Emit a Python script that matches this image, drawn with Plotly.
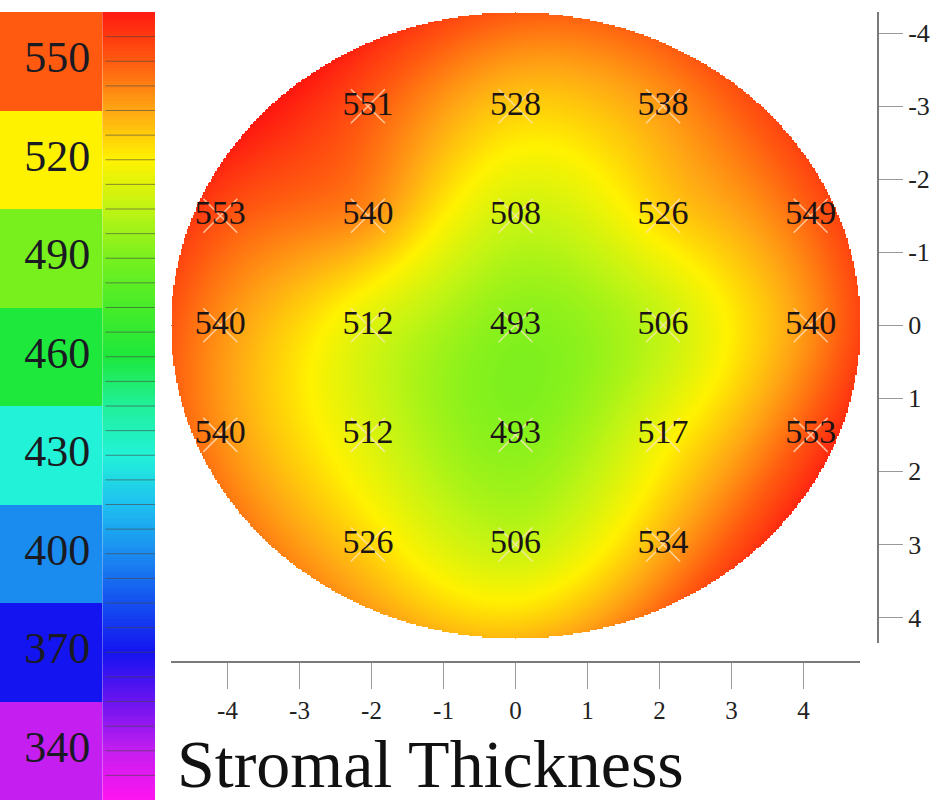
import numpy as np
import plotly.graph_objects as go

# ---- measurement positions (mm) and stromal thickness (um) ----
pt_x = [-2.05, 0.0, 2.05,
        -4.1, -2.05, 0.0, 2.05, 4.1,
        -4.1, -2.05, 0.0, 2.05, 4.1,
        -4.1, -2.05, 0.0, 2.05, 4.1,
        -2.05, 0.0, 2.05]
pt_y = [-3.0, -3.0, -3.0,
        -1.5, -1.5, -1.5, -1.5, -1.5,
        0.0, 0.0, 0.0, 0.0, 0.0,
        1.5, 1.5, 1.5, 1.5, 1.5,
        3.0, 3.0, 3.0]
thickness = [551, 528, 538,
             553, 540, 508, 526, 549,
             540, 512, 493, 506, 540,
             540, 512, 493, 517, 553,
             526, 506, 534]

# axis ticks
axis_ticks = [-4, -3, -2, -1, 0, 1, 2, 3, 4]
axis_ticktext = ["-4", "-3", "-2", "-1", "0", "1", "2", "3", "4"]

# colour key bands
key_values = [550, 520, 490, 460, 430, 400, 370, 340]
key_step = 30
key_min, key_max = 325, 565

title_text = "Stromal Thickness"

FONT = "Liberation Serif, Times New Roman, serif"

stops = [(325, "#FF14F0"), (340, "#C41EF0"), (355, "#6A14F0"), (370, "#1414F0"),
         (385, "#1450F0"), (400, "#1A8CF0"), (415, "#1EC0F0"), (430, "#22F2D8"),
         (445, "#20F09A"), (460, "#1EE83C"), (475, "#46EC28"), (490, "#78F01E"),
         (505, "#C0F414"), (520, "#FFF200"), (535, "#FFA814"), (550, "#FF5A10"),
         (565, "#FF1A10")]
colorscale = [[(v - key_min) / (key_max - key_min), c] for v, c in stops]

# ---- smooth thickness surface (thin-plate spline, quadratic trend) ----
RX, RY = 4.785, 4.28
px = np.array(pt_x)
py = np.array(pt_y)
pz = np.array(thickness, dtype=float)


def basis(x, y):
    return np.stack([np.ones_like(x), x, y, x * x, x * y, y * y], axis=-1)


def tps(r):
    with np.errstate(divide="ignore", invalid="ignore"):
        out = r * r * np.log(r)
    return np.nan_to_num(out)


n = len(px)
P = basis(px, py)
K = tps(np.hypot(px[:, None] - px[None, :], py[:, None] - py[None, :]))
A = np.zeros((n + 6, n + 6))
A[:n, :n] = K
A[:n, n:] = P
A[n:, :n] = P.T
sol = np.linalg.solve(A, np.concatenate([pz, np.zeros(6)]))
wts, coef = sol[:n], sol[n:]

gx = np.linspace(-RX, RX, 461)
gy = np.linspace(-RY, RY, 421)
GX, GY = np.meshgrid(gx, gy)
Dg = np.hypot(GX[..., None] - px, GY[..., None] - py)
field = basis(GX, GY) @ coef + tps(Dg) @ wts
field = np.clip(field, key_min, key_max)
field[(GX / RX) ** 2 + (GY / RY) ** 2 > 1.0] = np.nan
field = np.round(field, 1)

fig = go.Figure()

fig.add_trace(go.Heatmap(
    x=gx, y=gy, z=field, colorscale=colorscale, zmin=key_min, zmax=key_max,
    showscale=False, hoverinfo="skip", xaxis="x", yaxis="y"))

fig.add_trace(go.Scatter(
    x=pt_x, y=pt_y, mode="markers+text",
    text=[str(v) for v in thickness], textposition="middle center",
    textfont=dict(family=FONT, size=34, color="#1c1414"),
    marker=dict(symbol="x-thin", size=34,
                line=dict(color="rgba(255,228,196,0.75)", width=1.5)),
    hoverinfo="skip", showlegend=False, xaxis="x", yaxis="y"))

# ---- colour key: solid bands plus a continuous strip ----
band_edges = [key_max - i * key_step for i in range(len(key_values) + 1)]
fig.add_trace(go.Heatmap(
    x=[0.0, 0.66], y=band_edges, z=[[v] for v in key_values],
    colorscale=colorscale, zmin=key_min, zmax=key_max, showscale=False,
    hoverinfo="skip", xaxis="x2", yaxis="y2"))

strip_y = np.linspace(key_max, key_min, 241)
strip_c = (strip_y[:-1] + strip_y[1:]) / 2
fig.add_trace(go.Heatmap(
    x=[0.66, 1.0], y=strip_y, z=[[v] for v in strip_c],
    colorscale=colorscale, zmin=key_min, zmax=key_max, showscale=False,
    hoverinfo="skip", xaxis="x2", yaxis="y2"))

tick_x, tick_y = [], []
k = key_max - 7.5
while k > key_min + 1:
    tick_x += [0.68, 1.0, None]
    tick_y += [k, k, None]
    k -= 7.5
fig.add_trace(go.Scatter(
    x=tick_x, y=tick_y, mode="lines",
    line=dict(color="rgba(70,70,70,0.6)", width=1),
    hoverinfo="skip", showlegend=False, xaxis="x2", yaxis="y2"))

fig.add_trace(go.Scatter(
    x=[0.37] * len(key_values), y=key_values, mode="text",
    text=[str(v) for v in key_values], textposition="middle center",
    textfont=dict(family=FONT, size=44, color="#1a1a22"),
    hoverinfo="skip", showlegend=False, xaxis="x2", yaxis="y2"))

W, H = 941, 803
fig.update_layout(
    width=W, height=H, autosize=False,
    margin=dict(l=0, r=0, t=0, b=0),
    paper_bgcolor="white", plot_bgcolor="rgba(0,0,0,0)",
    showlegend=False,
    xaxis=dict(domain=[171 / W, 860 / W], range=[-RX, RX],
               anchor="free", position=1 - 662 / H,
               showline=True, linecolor="#7a7a7a", linewidth=2,
               ticks="outside", ticklen=26, tickcolor="#9a9a9a", tickwidth=1,
               tickvals=axis_ticks, ticktext=axis_ticktext,
               tickfont=dict(family=FONT, size=25, color="#222"),
               showgrid=False, zeroline=False),
    yaxis=dict(domain=[1 - 643 / H, 1 - 12 / H], range=[4.35, -4.29],
               side="right", anchor="free", position=878 / W,
               showline=True, linecolor="#7a7a7a", linewidth=2,
               ticks="outside", ticklen=24, tickcolor="#9a9a9a", tickwidth=1,
               tickvals=axis_ticks, ticktext=axis_ticktext,
               tickfont=dict(family=FONT, size=26, color="#222"),
               showgrid=False, zeroline=False),
    xaxis2=dict(domain=[0, 155 / W], range=[0, 1], anchor="y2",
                visible=False, fixedrange=True),
    yaxis2=dict(domain=[1 - 800 / H, 1 - 12 / H], range=[key_min, key_max],
                anchor="x2", visible=False, fixedrange=True),
    annotations=[dict(text=title_text, xref="paper", yref="paper",
                      x=176 / W, y=0, xanchor="left", yanchor="bottom",
                      showarrow=False, borderpad=0,
                      font=dict(family=FONT, size=68, color="#111"))],
)

fig.write_html("out.html")
